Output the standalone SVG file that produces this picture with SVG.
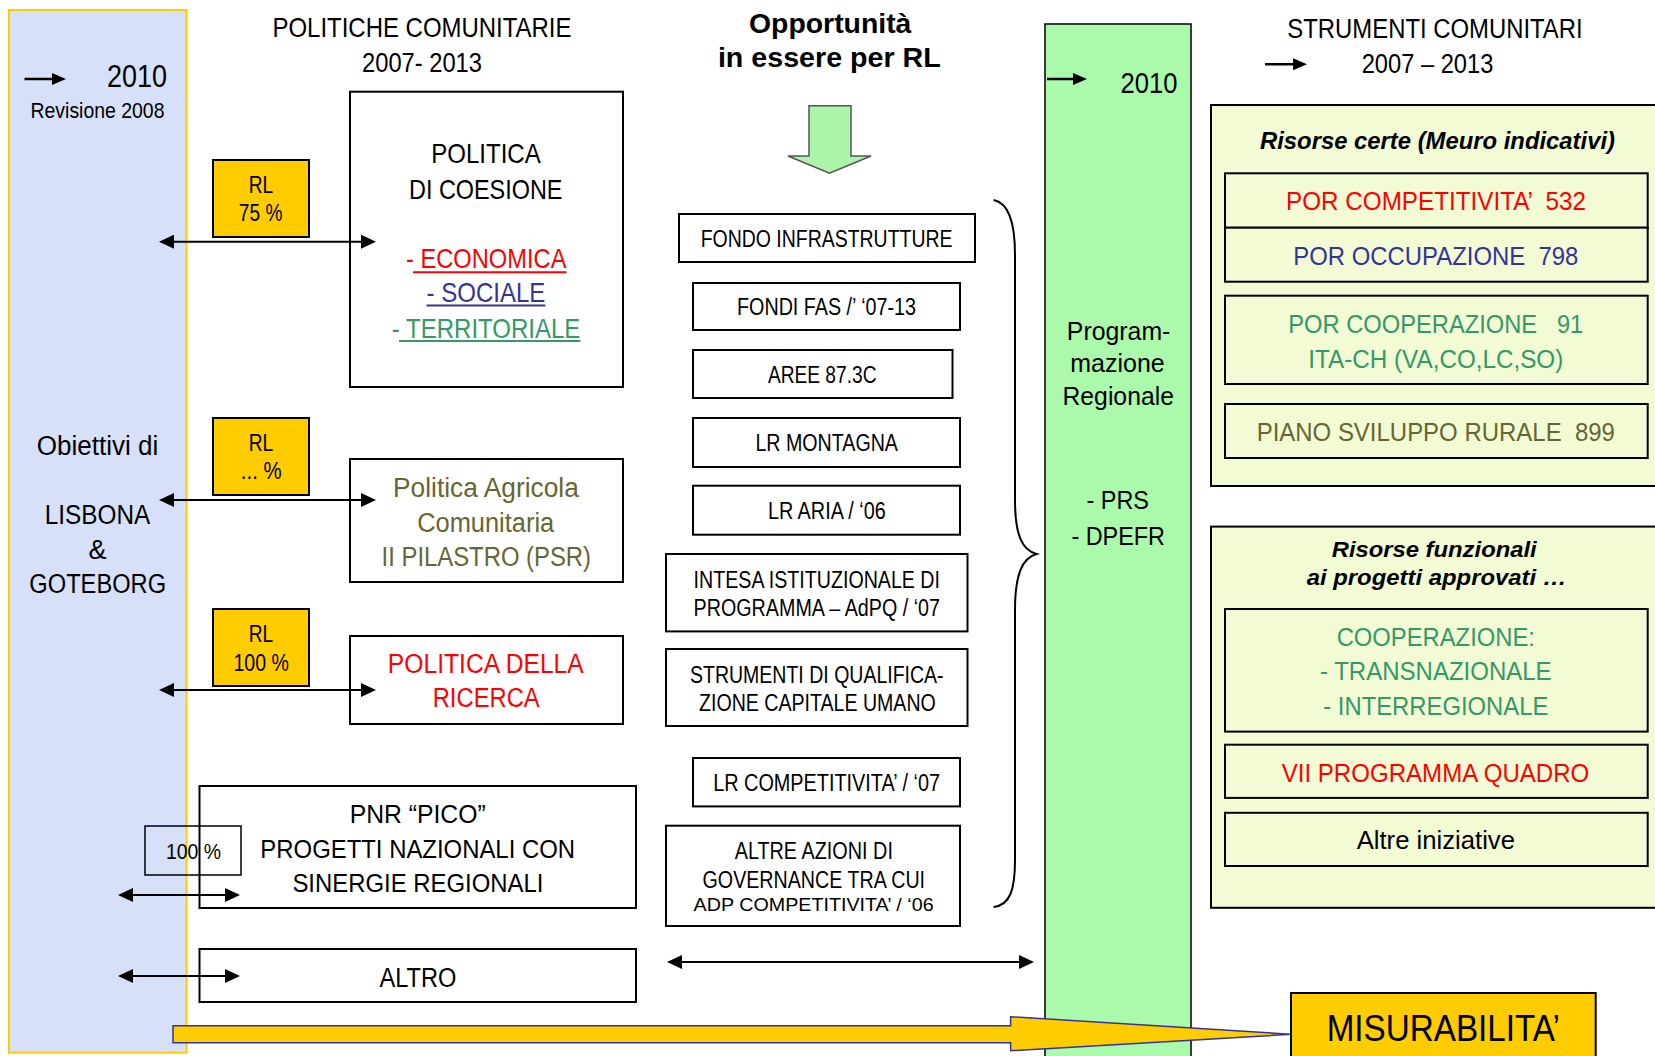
<svg xmlns="http://www.w3.org/2000/svg" width="1655" height="1056" viewBox="0 0 1655 1056">
<style>
text{font-family:"Liberation Sans Narrow","Liberation Sans",Arial,sans-serif;text-anchor:middle;fill:#000}
.w{font-family:"Liberation Sans",Arial,sans-serif}
.b{font-family:"Liberation Sans",Arial,sans-serif;font-weight:bold}
.bi{font-family:"Liberation Sans",Arial,sans-serif;font-weight:bold;font-style:italic}
.box{fill:#fff;stroke:#000;stroke-width:2}
.yb{fill:#ffcc00;stroke:#000;stroke-width:2}
.pb{fill:#f3fbd5;stroke:#000;stroke-width:2}
.ln{stroke:#000;stroke-width:2;fill:none}
.sa{stroke:#000;stroke-width:2.5;fill:none}
.red{fill:#ff0000}.blu{fill:#333399}.grn{fill:#339966}.olv{fill:#666633}
.f23{font-size:23px}.f26{font-size:26px}.f27{font-size:27px}.f28{font-size:28px}
</style>
<defs>
<marker id="a" markerUnits="userSpaceOnUse" viewBox="0 0 15 14" markerWidth="15" markerHeight="14" refX="11" refY="7" orient="auto-start-reverse"><path d="M0,0 L15,7 L0,14 z" fill="#000"/></marker>
<marker id="s" markerUnits="userSpaceOnUse" viewBox="0 0 14 12" markerWidth="14" markerHeight="12" refX="10" refY="6" orient="auto"><path d="M0,0 L14,6 L0,12 z" fill="#000"/></marker>
</defs>
<rect width="1655" height="1056" fill="#fff"/>

<g id="col-lisbona">
<rect x="9" y="10" width="177.6" height="1042.7" fill="#d6e0f8" stroke="#ffcc00" stroke-width="2"/>
<line x1="24.5" y1="79" x2="62" y2="79" class="sa" marker-end="url(#s)"/>
<text x="137" y="87" style="font-size:32px" textLength="60" lengthAdjust="spacingAndGlyphs">2010</text>
<text x="97.5" y="117.7" style="font-size:22px" textLength="134" lengthAdjust="spacingAndGlyphs">Revisione 2008</text>
<text x="97.5" y="455" class="f27" textLength="121.7" lengthAdjust="spacingAndGlyphs">Obiettivi di</text>
<text x="97.5" y="524" class="f27" textLength="105.3" lengthAdjust="spacingAndGlyphs">LISBONA</text>
<text x="97.5" y="559.3" class="f27">&amp;</text>
<text x="97.7" y="593.3" class="f27" textLength="136.7" lengthAdjust="spacingAndGlyphs">GOTEBORG</text>
</g>

<g id="titles">
<text x="422" y="36.7" class="f28" textLength="299" lengthAdjust="spacingAndGlyphs">POLITICHE COMUNITARIE</text>
<text x="422" y="71.7" class="f28" textLength="120" lengthAdjust="spacingAndGlyphs">2007- 2013</text>
<text x="830.2" y="33.3" class="b f28" textLength="162.4" lengthAdjust="spacingAndGlyphs">Opportunità</text>
<text x="829.3" y="66.7" class="b f28" textLength="222.8" lengthAdjust="spacingAndGlyphs">in essere per RL</text>
<text x="1435" y="37.7" class="f27" textLength="295.3" lengthAdjust="spacingAndGlyphs">STRUMENTI COMUNITARI</text>
<line x1="1265" y1="64.3" x2="1303" y2="64.3" class="sa" marker-end="url(#s)"/>
<text x="1427.5" y="73.3" class="f27" textLength="131.7" lengthAdjust="spacingAndGlyphs">2007 – 2013</text>
</g>

<g id="down-arrow">
<polygon points="809,105.7 851,105.7 851,156 871,156 829.5,173.3 788,156 809,156" fill="#aaf5aa" stroke="#555" stroke-width="1.5"/>
</g>

<g id="col-programmazione">
<rect x="1045" y="24" width="146" height="1045" fill="#abf9ab" stroke="#000" stroke-width="1.5"/>
<line x1="1047" y1="79" x2="1083" y2="79" class="sa" marker-end="url(#s)"/>
<text x="1149" y="93.3" style="font-size:30px" textLength="57" lengthAdjust="spacingAndGlyphs">2010</text>
<text x="1118.6" y="340" class="w" style="font-size:25px" textLength="103.6" lengthAdjust="spacingAndGlyphs">Program-</text>
<text x="1117.5" y="371.7" class="w" style="font-size:25px" textLength="94.6" lengthAdjust="spacingAndGlyphs">mazione</text>
<text x="1118.2" y="405" class="w" style="font-size:25px" textLength="111.4" lengthAdjust="spacingAndGlyphs">Regionale</text>
<text x="1117.7" y="509" class="w" style="font-size:25px" textLength="62.5" lengthAdjust="spacingAndGlyphs">- PRS</text>
<text x="1118.2" y="544.6" class="w" style="font-size:25px" textLength="93.6" lengthAdjust="spacingAndGlyphs">- DPEFR</text>
</g>

<g id="rl-75">
<rect x="213" y="160" width="96" height="77" class="yb"/>
<text x="261" y="192.7" class="f23" textLength="24.5" lengthAdjust="spacingAndGlyphs">RL</text>
<text x="260.6" y="221" class="f23" textLength="43.6" lengthAdjust="spacingAndGlyphs">75 %</text>
</g>
<g id="rl-x">
<rect x="213" y="418" width="96" height="77" class="yb"/>
<text x="261" y="450.7" class="f23" textLength="24.5" lengthAdjust="spacingAndGlyphs">RL</text>
<text x="261.2" y="479.3" class="f23" textLength="40.8" lengthAdjust="spacingAndGlyphs">... %</text>
</g>
<g id="rl-100">
<rect x="213" y="609" width="96" height="77" class="yb"/>
<text x="261" y="641.7" class="f23" textLength="24.5" lengthAdjust="spacingAndGlyphs">RL</text>
<text x="261.2" y="670.7" class="f23" textLength="55.5" lengthAdjust="spacingAndGlyphs">100 %</text>
</g>

<g id="coesione">
<rect x="350" y="91.7" width="273" height="295.3" class="box"/>
<text x="486" y="163.3" class="f28" textLength="109.4" lengthAdjust="spacingAndGlyphs">POLITICA</text>
<text x="485.7" y="199" class="f28" textLength="153.4" lengthAdjust="spacingAndGlyphs">DI COESIONE</text>
<text x="486.2" y="267.7" class="f28 red" textLength="160.5" lengthAdjust="spacingAndGlyphs">- ECONOMICA</text>
<line x1="413" y1="272.3" x2="566.5" y2="272.3" stroke="#ff0000" stroke-width="2"/>
<text x="485.9" y="301.7" class="f28 blu" textLength="118.8" lengthAdjust="spacingAndGlyphs">- SOCIALE</text>
<line x1="426.5" y1="305.5" x2="545.3" y2="305.5" stroke="#333399" stroke-width="2"/>
<text x="486.1" y="337.7" class="f28 grn" textLength="188.6" lengthAdjust="spacingAndGlyphs">- TERRITORIALE</text>
<line x1="399" y1="341" x2="580.4" y2="341" stroke="#339966" stroke-width="2"/>
</g>

<g id="agricola">
<rect x="350" y="459" width="273" height="123" class="box"/>
<text x="485.9" y="496.7" class="f27 olv" textLength="185.8" lengthAdjust="spacingAndGlyphs">Politica Agricola</text>
<text x="485.7" y="531.7" class="f27 olv" textLength="137" lengthAdjust="spacingAndGlyphs">Comunitaria</text>
<text x="486.3" y="565.7" class="f27 olv" textLength="209.4" lengthAdjust="spacingAndGlyphs">II PILASTRO (PSR)</text>
</g>

<g id="ricerca">
<rect x="350" y="636" width="273" height="88" class="box"/>
<text x="485.8" y="673.3" class="f27 red" textLength="195.9" lengthAdjust="spacingAndGlyphs">POLITICA DELLA</text>
<text x="486.2" y="707.3" class="f27 red" textLength="107" lengthAdjust="spacingAndGlyphs">RICERCA</text>
</g>

<g id="pnr">
<rect x="199.5" y="786" width="436.5" height="122" class="box"/>
<text x="417.7" y="822.7" class="f26" textLength="136" lengthAdjust="spacingAndGlyphs">PNR “PICO”</text>
<text x="417.7" y="857.7" class="f26" textLength="314.7" lengthAdjust="spacingAndGlyphs">PROGETTI NAZIONALI CON</text>
<text x="417.9" y="891.7" class="f26" textLength="250.9" lengthAdjust="spacingAndGlyphs">SINERGIE REGIONALI</text>
</g>
<g id="pnr-100">
<rect x="145" y="826" width="96" height="49" fill="none" stroke="#000" stroke-width="1.5"/>
<text x="193.5" y="859" style="font-size:22px" textLength="55" lengthAdjust="spacingAndGlyphs">100 %</text>
</g>

<g id="altro">
<rect x="199.5" y="949" width="436.5" height="53" class="box"/>
<text x="417.9" y="986.7" class="f27" textLength="76.8" lengthAdjust="spacingAndGlyphs">ALTRO</text>
</g>

<g id="fondo-infrastrutture">
<rect x="679" y="214" width="296" height="48" class="box"/>
<text x="826.6" y="246.7" class="f23" textLength="251.8" lengthAdjust="spacingAndGlyphs">FONDO INFRASTRUTTURE</text>
</g>
<g id="fondi-fas">
<rect x="693" y="283" width="267" height="47" class="box"/>
<text x="826.5" y="315" class="f23" textLength="179" lengthAdjust="spacingAndGlyphs">FONDI FAS /’ ‘07-13</text>
</g>
<g id="aree">
<rect x="693" y="350" width="259.5" height="48" class="box"/>
<text x="822.2" y="382.7" class="f23" textLength="108.6" lengthAdjust="spacingAndGlyphs">AREE 87.3C</text>
</g>
<g id="lr-montagna">
<rect x="693" y="418" width="267" height="49" class="box"/>
<text x="826.7" y="451" class="f23" textLength="142.5" lengthAdjust="spacingAndGlyphs">LR MONTAGNA</text>
</g>
<g id="lr-aria">
<rect x="693" y="485.7" width="267" height="49" class="box"/>
<text x="826.8" y="518.6" class="f23" textLength="117.8" lengthAdjust="spacingAndGlyphs">LR ARIA / ‘06</text>
</g>
<g id="intesa">
<rect x="666" y="554" width="301.5" height="77.4" class="box"/>
<text x="816.8" y="587.5" class="f23" textLength="246.4" lengthAdjust="spacingAndGlyphs">INTESA ISTITUZIONALE DI</text>
<text x="816.8" y="616" class="f23" textLength="246.4" lengthAdjust="spacingAndGlyphs">PROGRAMMA – AdPQ / ‘07</text>
</g>
<g id="strumenti-qualificazione">
<rect x="666" y="649" width="301.5" height="77" class="box"/>
<text x="816.8" y="683.2" class="f23" textLength="253.6" lengthAdjust="spacingAndGlyphs">STRUMENTI DI QUALIFICA-</text>
<text x="817.4" y="710.7" class="f23" textLength="236.8" lengthAdjust="spacingAndGlyphs">ZIONE CAPITALE UMANO</text>
</g>
<g id="lr-competitivita">
<rect x="693" y="758" width="267" height="48.4" class="box"/>
<text x="826.6" y="791" class="f23" textLength="226.8" lengthAdjust="spacingAndGlyphs">LR COMPETITIVITA’ / ‘07</text>
</g>
<g id="altre-azioni">
<rect x="666" y="825.7" width="294" height="100.3" class="box"/>
<text x="813.8" y="859" class="f23" textLength="158.2" lengthAdjust="spacingAndGlyphs">ALTRE AZIONI DI</text>
<text x="813.8" y="887.5" class="f23" textLength="222.5" lengthAdjust="spacingAndGlyphs">GOVERNANCE TRA CUI</text>
<text x="813.6" y="910.7" class="w" style="font-size:18px" textLength="240" lengthAdjust="spacingAndGlyphs">ADP COMPETITIVITA’ / ‘06</text>
</g>

<g id="risorse-certe">
<rect x="1211" y="105" width="460" height="381" class="pb"/>
<text x="1437.5" y="149.3" class="bi" style="font-size:23px" textLength="355" lengthAdjust="spacingAndGlyphs">Risorse certe (Meuro indicativi)</text>
<rect x="1225" y="173.3" width="422.7" height="54.4" class="pb"/>
<text x="1436" y="210" class="f26 red" textLength="300" lengthAdjust="spacingAndGlyphs">POR COMPETITIVITA’ &#160;532</text>
<rect x="1225" y="227.7" width="422.7" height="54" class="pb"/>
<text x="1435.8" y="265" class="f26 blu" textLength="285" lengthAdjust="spacingAndGlyphs">POR OCCUPAZIONE &#160;798</text>
<rect x="1225" y="295.7" width="422.7" height="88.3" class="pb"/>
<text x="1435.8" y="333.3" class="f26 grn" textLength="295" lengthAdjust="spacingAndGlyphs">POR COOPERAZIONE &#160;&#160;91</text>
<text x="1435.8" y="367.7" class="f26 grn" textLength="255" lengthAdjust="spacingAndGlyphs">ITA-CH (VA,CO,LC,SO)</text>
<rect x="1225" y="404" width="422.7" height="54" class="pb"/>
<text x="1435.8" y="441" class="f26 olv" textLength="358.3" lengthAdjust="spacingAndGlyphs">PIANO SVILUPPO RURALE &#160;899</text>
</g>

<g id="risorse-funzionali">
<rect x="1211" y="526.6" width="460" height="381.2" class="pb"/>
<text x="1434.2" y="556.7" class="bi" style="font-size:22px" textLength="205" lengthAdjust="spacingAndGlyphs">Risorse funzionali</text>
<text x="1436.7" y="585.1" class="bi" style="font-size:22px" textLength="260" lengthAdjust="spacingAndGlyphs">ai progetti approvati …</text>
<rect x="1225" y="609" width="422.7" height="122.6" class="pb"/>
<text x="1435.8" y="646.1" class="f26 grn" textLength="198.3" lengthAdjust="spacingAndGlyphs">COOPERAZIONE:</text>
<text x="1435.8" y="680.1" class="f26 grn" textLength="231.7" lengthAdjust="spacingAndGlyphs">- TRANSNAZIONALE</text>
<text x="1435.8" y="714.5" class="f26 grn" textLength="225" lengthAdjust="spacingAndGlyphs">- INTERREGIONALE</text>
<rect x="1225" y="744.7" width="422.7" height="53.2" class="pb"/>
<text x="1435.5" y="781.9" class="f26 red" textLength="307.7" lengthAdjust="spacingAndGlyphs">VII PROGRAMMA QUADRO</text>
<rect x="1225" y="812.8" width="422.7" height="53.2" class="pb"/>
<text x="1435.8" y="849.3" class="f26" textLength="158.3" lengthAdjust="spacingAndGlyphs">Altre iniziative</text>
</g>

<g id="connectors">
<line x1="163" y1="241.7" x2="372" y2="241.7" class="ln" marker-start="url(#a)" marker-end="url(#a)"/>
<line x1="163" y1="500" x2="372" y2="500" class="ln" marker-start="url(#a)" marker-end="url(#a)"/>
<line x1="163" y1="690" x2="372" y2="690" class="ln" marker-start="url(#a)" marker-end="url(#a)"/>
<line x1="122" y1="895" x2="236" y2="895" class="ln" marker-start="url(#a)" marker-end="url(#a)"/>
<line x1="122" y1="976" x2="236" y2="976" class="ln" marker-start="url(#a)" marker-end="url(#a)"/>
<line x1="671" y1="962" x2="1030" y2="962" class="ln" marker-start="url(#a)" marker-end="url(#a)"/>
<path d="M993.6,200 C1010,203 1015,225 1015,255 L1015,500 C1015,535 1022,550 1036.5,554 C1022,558 1015,575 1015,610 L1015,860 C1015,890 1010,905 993.6,907" class="ln"/>
<polygon points="173,1025.7 1010.6,1025.7 1010.6,1016.7 1291,1034.3 1010.6,1050.7 1010.6,1042.7 173,1042.7" fill="#ffcc00" stroke="#333399" stroke-width="1.5"/>
</g>

<g id="misurabilita">
<rect x="1291" y="993" width="304.7" height="80" class="yb"/>
<text x="1443.3" y="1040.8" style="font-size:37px" textLength="233.3" lengthAdjust="spacingAndGlyphs">MISURABILITA’</text>
</g>
</svg>
